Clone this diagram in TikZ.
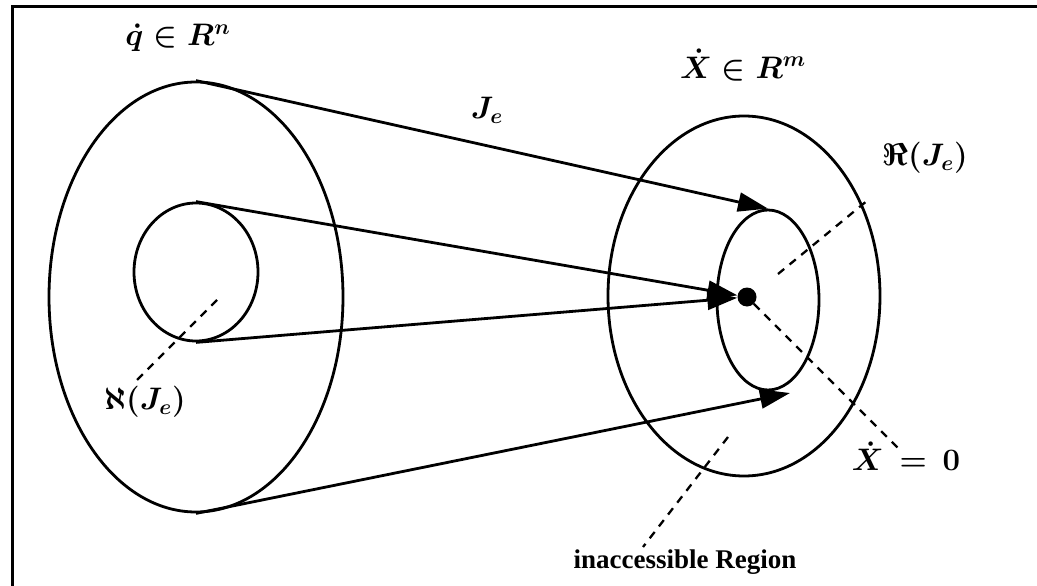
\documentclass[tikz,border=0pt]{standalone}
\usepackage[no-math]{fontspec}
\setmainfont{Liberation Serif}
\usetikzlibrary{arrows.meta, shapes.geometric}
\tikzset{
  espaco/.style={ellipse, draw=black, line width=2.8pt, inner sep=0pt},
  mapa/.style={-{Triangle[length=30pt, width=19pt]}, line width=2.8pt},
  guia/.style={dash pattern=on 8pt off 7pt, line width=2.3pt},
  origem/.style={circle, fill=black, inner sep=0pt, minimum size=19pt},
  rotulo/.style={inner sep=0pt, font=\huge\boldmath, transform shape, scale=1.5},
  texto/.style={inner sep=0pt, font=\fontsize{27}{30}\selectfont\bfseries},
}

\begin{document}
\begin{tikzpicture}[x=1pt, y=-1pt]
  \useasboundingbox (0,0) rectangle (1037,586);

  % ---------------- moldura ----------------
  \draw[line width=3pt] (12,586) -- (12,7) -- (1037,7);

  % ---------------- espaço das juntas ----------------
  \node[espaco, minimum width=294pt, minimum height=430pt] (juntas) at (196,297) {};
  \node[espaco, minimum width=124pt, minimum height=138pt] (nulo) at (196,272) {};

  % ---------------- espaço cartesiano ----------------
  \node[espaco, minimum width=272pt, minimum height=360pt] (cartesiano) at (744,296) {};
  \node[espaco, minimum width=102pt, minimum height=180pt] (imagem) at (768,300) {};
  \node[origem] (zero) at (747,297) {};

  % ---------------- mapeamentos ----------------
  \coordinate (pontabaixo) at (790,393);
  \draw[mapa] (juntas.north) -- (imagem.north);
  \draw[mapa] (nulo.north) -- (zero);
  \draw[mapa] (nulo.south) -- (zero);
  \draw[mapa] (juntas.south) -- (pontabaixo);

  % ---------------- rótulos ----------------
  \node[rotulo] (rotq) at (178,38) {$\dot{q}\in R^{n}$};
  \node[rotulo] (rotx) at (743,65) {$\dot{X}\in R^{m}$};
  \node[rotulo] (rotj) at (487,110) {$J_{e}$};
  \node[rotulo] (rotim) at (925,158) {$\Re(J_{e})$};
  \node[rotulo] (rotnu) at (145,402) {$\aleph(J_{e})$};
  \node[rotulo] (rotzero) at (906,456) {$\dot{X}\,=\,0$};
  \node[texto] (rotinac) at (685,562) {inaccessible Region};

  % ---------------- linhas de chamada ----------------
  \coordinate (nuloA) at (217,300);  \coordinate (nuloB) at (137,380);
  \coordinate (imA) at (778,274);    \coordinate (imB) at (868,200);
  \coordinate (zeroB) at (900,450);
  \coordinate (inacA) at (728,437);  \coordinate (inacB) at (643,547);
  \draw[guia] (nuloA) -- (nuloB);
  \draw[guia] (imA) -- (imB);
  \draw[guia] (zero) -- (zeroB);
  \draw[guia] (inacA) -- (inacB);
\end{tikzpicture}
\end{document}
